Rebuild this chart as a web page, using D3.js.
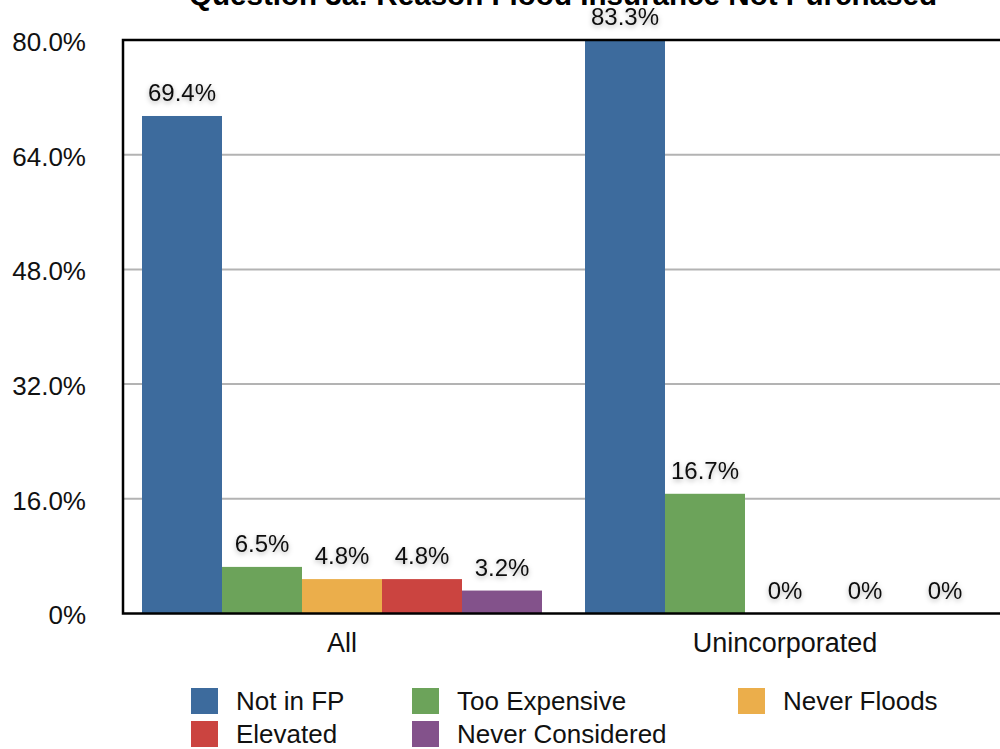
<!DOCTYPE html>
<html><head><meta charset="utf-8">
<script src="https://cdn.jsdelivr.net/npm/d3@7"></script>
<style>
html,body{margin:0;padding:0;background:#fff;overflow:hidden}
text{font-family:"Liberation Sans",Arial,Helvetica,sans-serif}
</style></head>
<body><svg id="c" width="1000" height="749"></svg>
<script>
const title = "Question 3a: Reason Flood Insurance Not Purchased";
const categories = ["All", "Unincorporated"];
const seriesNames = ["Not in FP", "Too Expensive", "Never Floods", "Elevated", "Never Considered"];
const seriesColors = ["#3d6b9d", "#6ca35a", "#ebae4b", "#cb4440", "#83528b"];
const valuesAll = [69.4, 6.5, 4.8, 4.8, 3.2];
const valuesUninc = [83.3, 16.7, 0, 0, 0];
const valueLabelsAll = ["69.4%", "6.5%", "4.8%", "4.8%", "3.2%"];
const valueLabelsUninc = ["83.3%", "16.7%", "0%", "0%", "0%"];
const yTicks = [0, 16, 32, 48, 64, 80];
const yTickLabels = ["0%", "16.0%", "32.0%", "48.0%", "64.0%", "80.0%"];

(function(){
const values = [valuesAll, valuesUninc];
const labels = [valueLabelsAll, valueLabelsUninc];

const svg = d3.select("#c");
const pL = 123, pR = 1009, pT = 40, pB = 613.5;

const defs = svg.append("defs");
const f = defs.append("filter").attr("id","sh").attr("x","-20%").attr("y","-40%").attr("width","140%").attr("height","180%");
f.append("feDropShadow").attr("dx",0).attr("dy",2).attr("stdDeviation",2.5).attr("flood-color","#000").attr("flood-opacity",0.3);
defs.append("clipPath").attr("id","pc").append("rect").attr("x",pL).attr("y",pT).attr("width",pR-pL).attr("height",pB-pT);

const y = d3.scaleLinear().domain([0,80]).range([pB, pT]);
const x0 = d3.scaleBand().domain(categories).range([pL, pR]).paddingInner(0).paddingOuter(0);
const x1 = d3.scaleBand().domain(seriesNames).range([19, 419]).padding(0);

svg.append("g").selectAll("line").data(yTicks.filter(t => t>0 && t<80)).join("line")
  .attr("x1", pL).attr("x2", pR).attr("y1", d=>y(d)).attr("y2", d=>y(d))
  .attr("stroke","#b3b3b3").attr("stroke-width",2);

const g = svg.append("g").attr("clip-path","url(#pc)");
categories.forEach((c,ci)=>{
  g.append("g").selectAll("rect").data(values[ci]).join("rect")
    .attr("x",(d,i)=>x0(c)+x1(seriesNames[i]))
    .attr("width",x1.bandwidth())
    .attr("y",d=>y(d))
    .attr("height",d=>pB-y(d))
    .attr("fill",(d,i)=>seriesColors[i]);
});

svg.append("rect").attr("x",pL).attr("y",pT).attr("width",pR-pL).attr("height",pB-pT)
  .attr("fill","none").attr("stroke","#000").attr("stroke-width",2.5);

categories.forEach((c,ci)=>{
  svg.append("g").selectAll("text").data(values[ci]).join("text")
    .attr("x",(d,i)=>x0(c)+x1(seriesNames[i])+x1.bandwidth()/2)
    .attr("y",d=>Math.max(y(d), pT)-15)
    .attr("text-anchor","middle").attr("font-size",24).attr("fill","#111")
    .attr("filter","url(#sh)")
    .text((d,i)=>labels[ci][i]);
});

const ya = d3.axisLeft(y).tickValues(yTicks).tickSize(0).tickPadding(37).tickFormat((d,i)=>yTickLabels[i]);
const yg = svg.append("g").attr("transform",`translate(${pL},0)`).call(ya);
yg.select(".domain").remove();
yg.selectAll("text").attr("font-size",26).attr("dy","0.4em").attr("fill","#111").attr("font-family","Liberation Sans, Arial, sans-serif");

const xa = d3.axisBottom(x0).tickSize(0).tickPadding(19);
const xg = svg.append("g").attr("transform",`translate(${-2.5},${pB})`).call(xa);
xg.select(".domain").remove();
xg.selectAll("text").attr("font-size",27).attr("fill","#111").attr("font-family","Liberation Sans, Arial, sans-serif");

svg.append("text").attr("x",(pL+pR)/2 - 3).attr("y",5).attr("text-anchor","middle")
  .attr("font-size",29.6).attr("font-weight","bold").attr("fill","#000").text(title);

const legX = [191, 412, 738, 191, 412];
const legY = [701, 701, 701, 734, 734];
const lg = svg.append("g").selectAll("g").data(seriesNames).join("g")
  .attr("transform",(d,i)=>`translate(${legX[i]},${legY[i]})`);
lg.append("rect").attr("x",0).attr("y",-13).attr("width",27).attr("height",26).attr("fill",(d,i)=>seriesColors[i]);
lg.append("text").attr("x",45).attr("y",9).attr("font-size",26).attr("fill","#111").text(d=>d);
})();
</script></body></html>
